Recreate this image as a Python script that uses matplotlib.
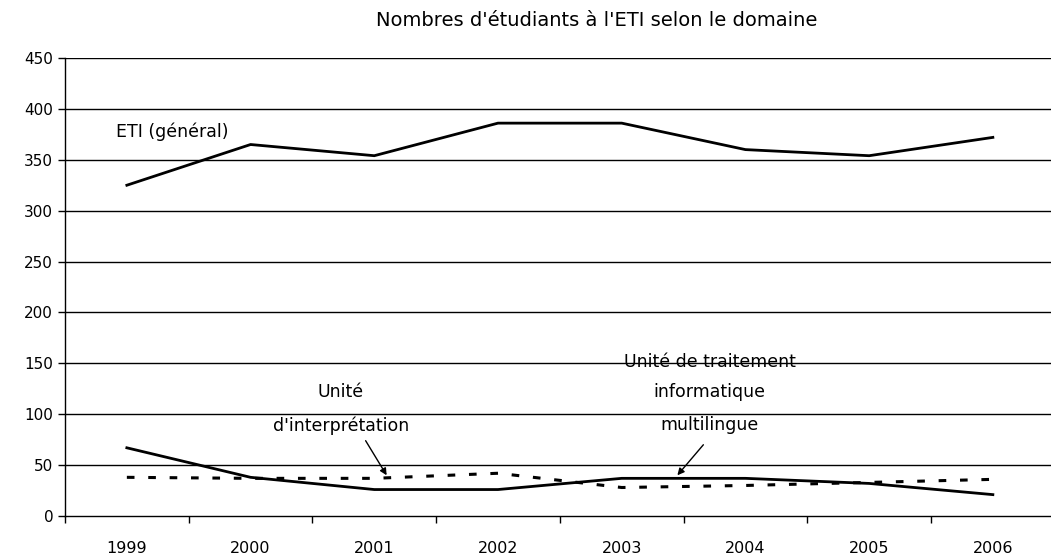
import matplotlib.pyplot as plt
import numpy as np

years = ['1999', '2000', '2001', '2002', '2003', '2004', '2005', '2006']
eti_general = [325, 365, 354, 386, 386, 360, 354, 372]
unite_interpretation = [38, 37, 37, 42, 28, 30, 33, 36]
unite_traitement = [67, 38, 26, 26, 37, 37, 32, 21]
y_ticks = [0, 50, 100, 150, 200, 250, 300, 350, 400, 450]


def plot_students(outfile='out.png'):
    plt.rcParams['font.family'] = ['DejaVu Sans']
    fig = plt.figure(figsize=(10.51, 5.57), dpi=100)
    ax = fig.add_axes([65 / 1051, 1 - 516 / 557, 1 - 65 / 1051, (516 - 58) / 557])
    x = np.arange(len(years))

    # gridlines
    for y in y_ticks[1:]:
        ax.axhline(y, color='k', lw=1.0, zorder=1)

    ax.plot(x, eti_general, color='k', lw=2.0, zorder=3)
    ax.plot(x, unite_interpretation, color='k', lw=2.2, dashes=(2.5, 4.5),
            dash_capstyle='butt', zorder=3)
    ax.plot(x, unite_traitement, color='k', lw=2.0, zorder=3)

    # labels and arrows
    fs = 12.5
    ax.text(-0.09, 378, 'ETI (général)', fontsize=fs, ha='left', va='center')
    ax.text(1.73, 122, 'Unité', fontsize=fs, ha='center', va='center')
    ax.text(1.73, 89, "d'interprétation", fontsize=fs, ha='center', va='center')
    ax.annotate('', xy=(2.1, 40), xytext=(1.93, 74),
                arrowprops=dict(arrowstyle='-|>', color='k', lw=1.0,
                                mutation_scale=10, shrinkA=0, shrinkB=0))
    ax.text(4.71, 151, 'Unité de traitement', fontsize=fs, ha='center', va='center')
    ax.text(4.71, 122, 'informatique', fontsize=fs, ha='center', va='center')
    ax.text(4.71, 89, 'multilingue', fontsize=fs, ha='center', va='center')
    ax.annotate('', xy=(4.45, 40), xytext=(4.66, 70),
                arrowprops=dict(arrowstyle='-|>', color='k', lw=1.0,
                                mutation_scale=10, shrinkA=0, shrinkB=0))

    # axes tweaks
    ax.set_xlim(-0.5, 7.47)
    ax.set_ylim(0, 450)
    ax.set_yticks(y_ticks)
    ax.set_xticks(x - 0.5)
    ax.set_xticklabels([])
    ax.set_xticks(x, minor=True)
    ax.set_xticklabels(years, minor=True)
    ax.tick_params(axis='x', which='major', direction='out', length=5, width=1)
    ax.tick_params(axis='x', which='minor', length=0, pad=18, labelsize=11.5)
    ax.tick_params(axis='y', direction='out', length=5, width=1, labelsize=11)
    for side in ['top', 'right']:
        ax.spines[side].set_visible(False)
    ax.spines['left'].set_linewidth(1.0)
    ax.spines['bottom'].set_linewidth(1.0)

    fig.text(597 / 1051, 1 - 20 / 557, "Nombres d'étudiants à l'ETI selon le domaine",
             ha='center', va='center', fontsize=14)
    fig.savefig(outfile, dpi=100)


def main():
    plot_students()


if __name__ == '__main__':
    main()
